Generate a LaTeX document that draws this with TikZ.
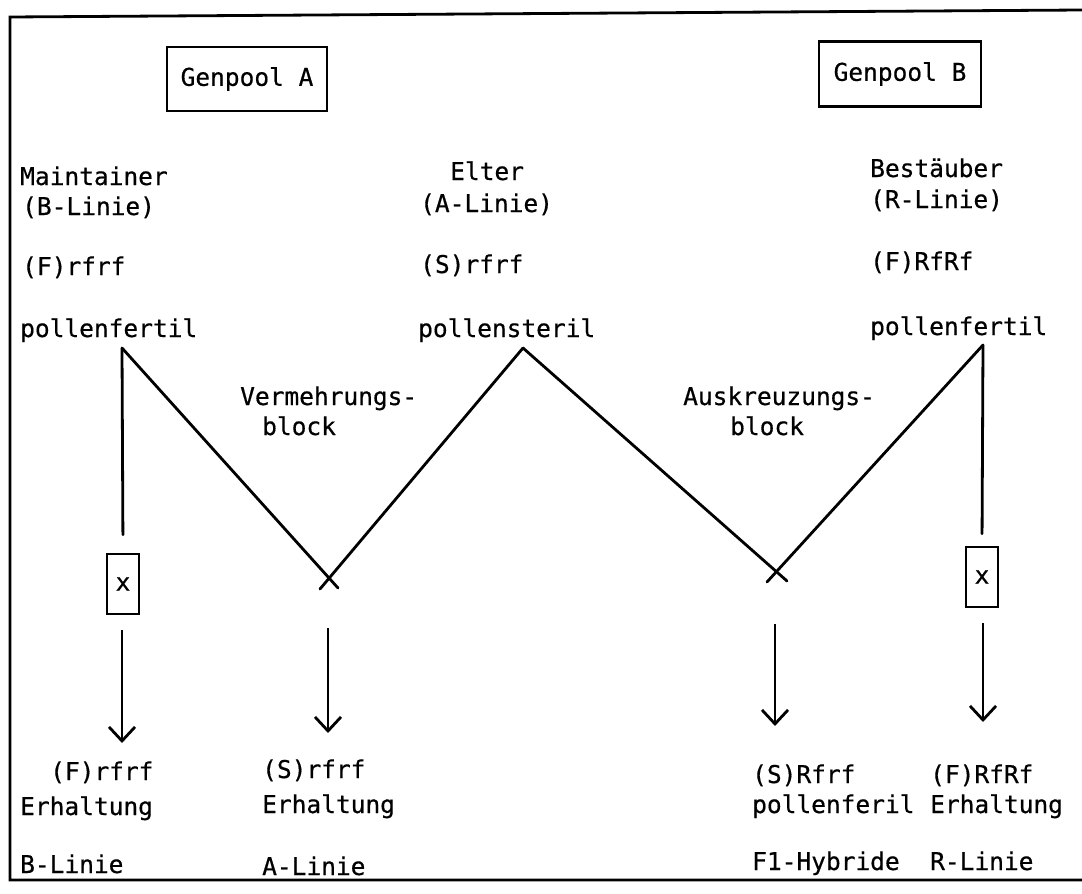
\documentclass[tikz,border=0pt]{standalone}
\usepackage{fontspec}
\newfontfamily\tw[FakeBold=0.5]{DejaVu Sans Mono}
\usetikzlibrary{arrows.meta}
\begin{document}
\begin{tikzpicture}[x=1pt,y=-1pt,
  fnt/.style={font=\tw\fontsize{24.5}{30}\selectfont},
  txt/.style={fnt,anchor=base west,inner sep=0pt},
  pool/.style={fnt,draw,line width=2.6pt,minimum width=160pt,minimum height=64pt,inner sep=0pt},
  xbox/.style={fnt,draw,line width=2.6pt,minimum width=32pt,minimum height=60pt,inner sep=0pt},
  ln/.style={line width=2.8pt,line cap=round},
  arr/.style={line width=2.8pt,-{Straight Barb[length=14pt,width=26pt,line width=2.8pt]}}]
\useasboundingbox (0,0) rectangle (1082,894);
% frame
\draw[line width=2.8pt] (1082,10) -- (10,17) -- (10,880) -- (1082,880);
% gene pools
\node[pool] (gA) at (247,79) {Genpool A};
\node[pool,minimum width=162pt,minimum height=65pt] (gB) at (900,74) {Genpool B};
% left column
\node[txt] (m1) at (20,185) {Maintainer};
\node[txt] (m2) at (22,215) {(B-Linie)};
\node[txt] (m3) at (22,275) {(F)rfrf};
\node[txt] (m4) at (20,337) {pollenfertil};
% middle column
\node[txt] (e1) at (450,180) {Elter};
\node[txt] (e2) at (420,212) {(A-Linie)};
\node[txt] (e3) at (420,273) {(S)rfrf};
\node[txt] (e4) at (418,337) {pollensteril};
% right column
\node[txt] (b1) at (870,177) {Bestäuber};
\node[txt] (b2) at (870,208) {(R-Linie)};
\node[txt] (b3) at (870,270) {(F)RfRf};
\node[txt] (b4) at (870,335) {pollenfertil};
% block labels
\node[txt] (v1) at (240,405) {Vermehrungs-};
\node[txt] (v2) at (262,435) {block};
\node[txt] (a1) at (683,405) {Auskreuzungs-};
\node[txt] (a2) at (730,435) {block};
% line start points
\coordinate (pA) at (122,348);
\coordinate (pE) at (523,348);
\coordinate (pB) at (983,345);
% crossing ends
\coordinate (xAl) at (338,588);
\coordinate (xAr) at (320,589);
\coordinate (xBl) at (787,581);
\coordinate (xBr) at (767,582);
% selfing boxes
\node[xbox] (sA) at (123,584) {x};
\node[xbox] (sB) at (982,577) {x};
% V lines
\draw[ln] (pA) -- (xAl);
\draw[ln] (pE) -- (xAr);
\draw[ln] (pE) -- (xBl);
\draw[ln] (pB) -- (xBr);
% vertical lines to boxes
\draw[ln,shorten >=18pt] (pA) -- (sA.north);
\draw[ln,shorten >=12pt] (pB) -- (sB.north);
% arrow coordinates
\coordinate (s1) at (122,630);
\coordinate (t1) at (122,743);
\coordinate (s2) at (328,628);
\coordinate (t2) at (328,733);
\coordinate (s3) at (775,624);
\coordinate (t3) at (775,726);
\coordinate (s4) at (983,623);
\coordinate (t4) at (983,722);
\draw[arr] (s1) -- (t1);
\draw[arr] (s2) -- (t2);
\draw[arr] (s3) -- (t3);
\draw[arr] (s4) -- (t4);
% bottom texts
\node[txt] (r1a) at (50,780) {(F)rfrf};
\node[txt] (r1b) at (20,815) {Erhaltung};
\node[txt] (r1c) at (20,873) {B-Linie};
\node[txt] (r2a) at (262,778) {(S)rfrf};
\node[txt] (r2b) at (262,813) {Erhaltung};
\node[txt] (r2c) at (262,875) {A-Linie};
\node[txt] (r3a) at (752,783) {(S)Rfrf};
\node[txt] (r3b) at (752,813) {pollenferil};
\node[txt] (r3c) at (752,870) {F1-Hybride};
\node[txt] (r4a) at (930,783) {(F)RfRf};
\node[txt] (r4b) at (930,813) {Erhaltung};
\node[txt] (r4c) at (930,870) {R-Linie};
\end{tikzpicture}
\end{document}
